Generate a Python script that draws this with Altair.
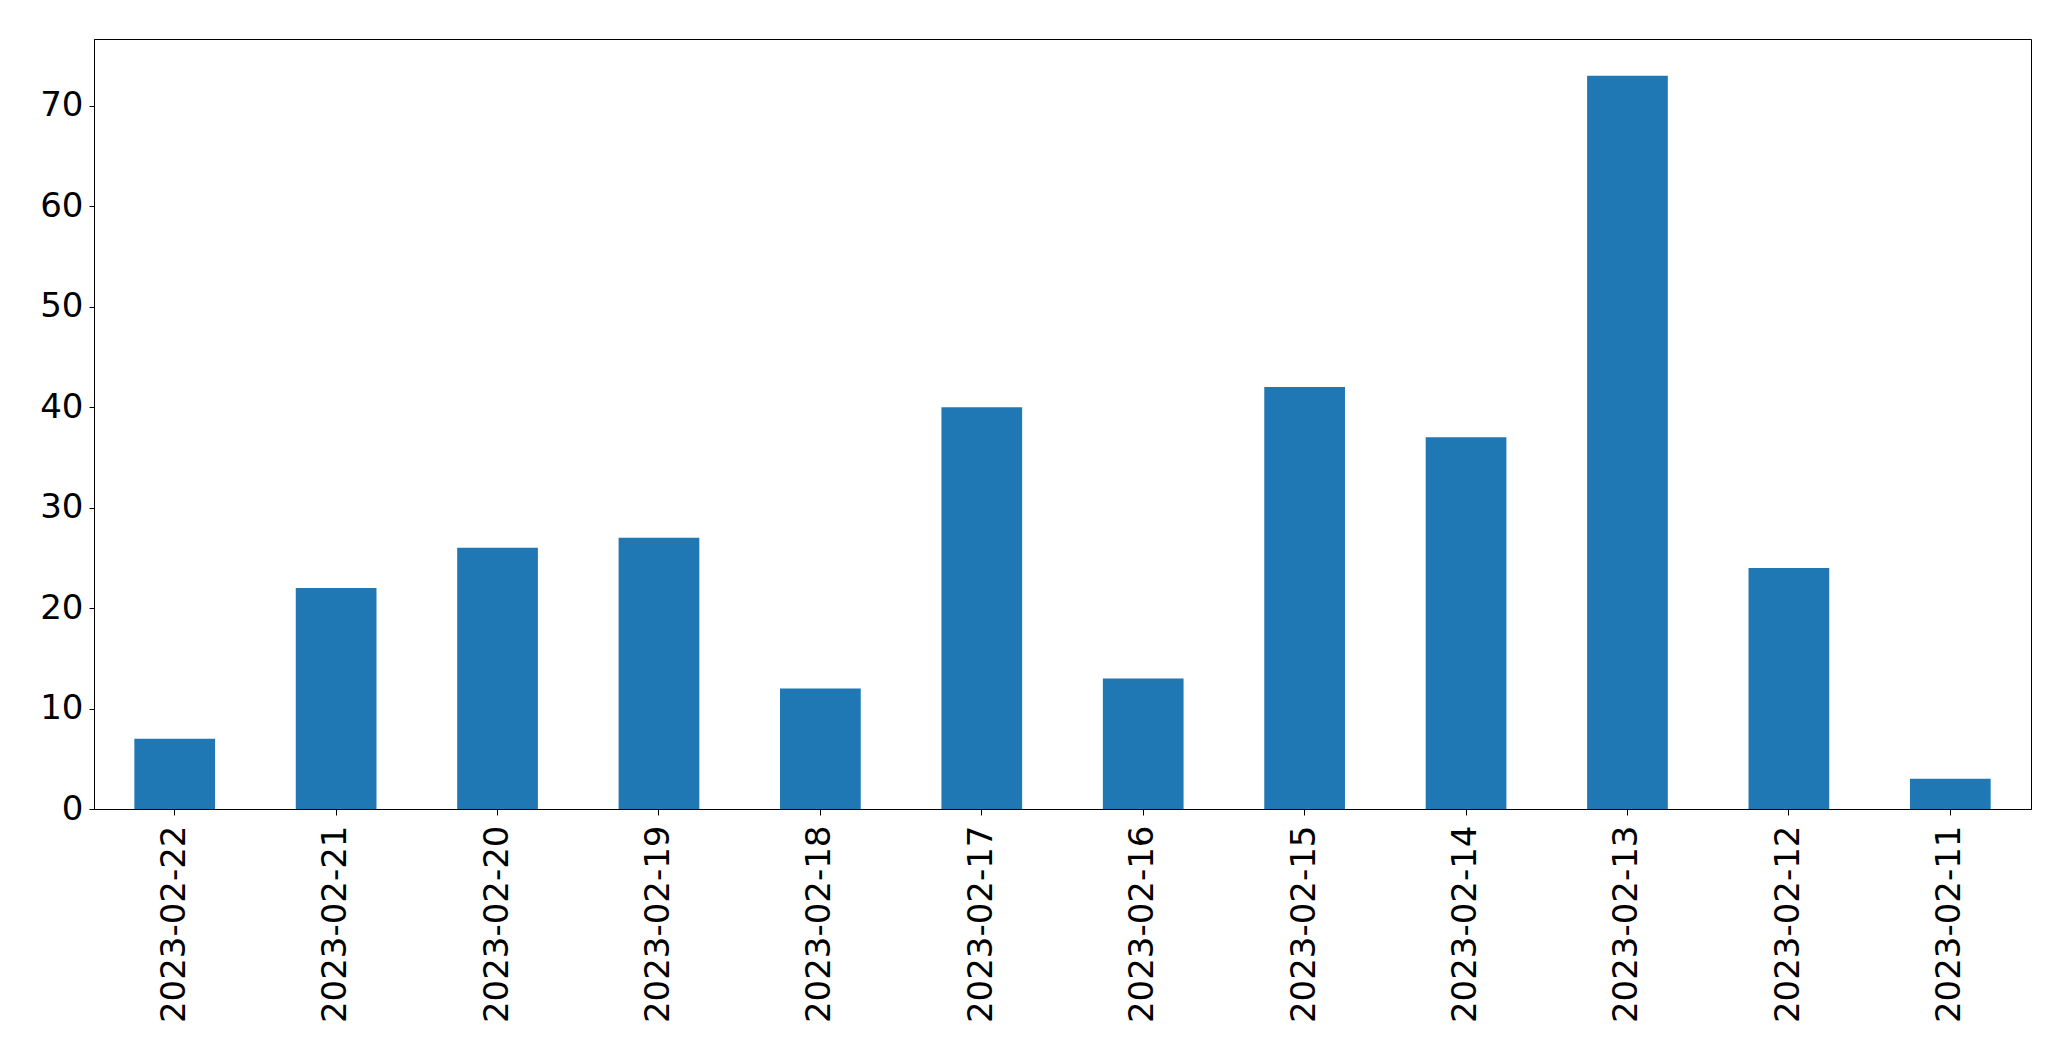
import altair as alt
import pandas as pd

dates = ["2023-02-22", "2023-02-21", "2023-02-20", "2023-02-19", "2023-02-18",
         "2023-02-17", "2023-02-16", "2023-02-15", "2023-02-14", "2023-02-13",
         "2023-02-12", "2023-02-11"]
counts = [7, 22, 26, 27, 12, 40, 13, 42, 37, 73, 24, 3]
y_ticks = [0, 10, 20, 30, 40, 50, 60, 70]

df = pd.DataFrame({"date": dates, "count": counts})

FONT = "DejaVu Sans"

chart = alt.Chart(df).mark_bar(color="#1f77b4").encode(
    x=alt.X("date:N", sort=None, title=None,
            scale=alt.Scale(paddingInner=0.5, paddingOuter=0.25),
            axis=alt.Axis(labelAngle=-90, labelFontSize=34, labelFont=FONT,
                          labelColor="black", tickColor="black", domainColor="black",
                          tickSize=6, labelPadding=10, domainWidth=1, tickWidth=1,
                          labelLimit=0, grid=False)),
    y=alt.Y("count:Q", title=None,
            scale=alt.Scale(domain=[0, 76.65], nice=False, zero=True),
            axis=alt.Axis(values=y_ticks, labelFontSize=34, labelFont=FONT,
                          labelColor="black", tickColor="black", domainColor="black",
                          tickSize=5, labelPadding=6, domainWidth=1, tickWidth=1,
                          labelLimit=0, grid=False)),
).properties(
    width=1937,
    height=770,
    background="white",
    autosize=alt.AutoSizeParams(type="none"),
    padding={"left": 86, "top": 31, "right": 30, "bottom": 240},
).configure_view(
    stroke="black", strokeWidth=1
)

chart.save("out.html", embed_options={"renderer": "svg", "actions": False})
